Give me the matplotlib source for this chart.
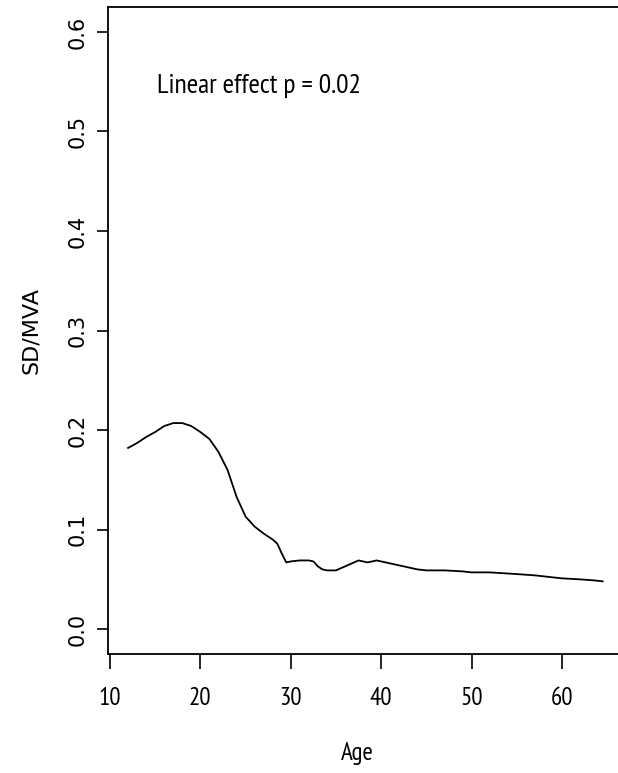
import matplotlib
matplotlib.use("Agg")
import matplotlib.pyplot as plt

# smoothed SD/MVA by age
age = [12, 13, 14, 15, 16, 17, 18, 19, 20, 21, 22, 23, 24, 25, 26, 27, 28,
       28.5, 29, 29.5, 30, 31, 32, 32.5, 33, 33.5, 34, 35, 36, 37, 37.5, 38,
       38.5, 39, 39.5, 40, 41, 42, 43, 44, 45, 47, 49, 50, 52, 55, 57, 58,
       60, 62, 63.5, 64.5]
sd_mva = [0.182, 0.187, 0.193, 0.198, 0.204, 0.207, 0.207, 0.204, 0.198,
          0.191, 0.178, 0.160, 0.133, 0.113, 0.103, 0.096, 0.090, 0.086,
          0.076, 0.067, 0.068, 0.069, 0.069, 0.068, 0.063, 0.060, 0.059,
          0.059, 0.063, 0.067, 0.069, 0.068, 0.067, 0.068, 0.069, 0.068,
          0.066, 0.064, 0.062, 0.060, 0.059, 0.059, 0.058, 0.057, 0.057,
          0.0553, 0.054, 0.053, 0.051, 0.050, 0.049, 0.048]

x_ticks = [10, 20, 30, 40, 50, 60]
y_ticks = [0.0, 0.1, 0.2, 0.3, 0.4, 0.5, 0.6]
note = "Linear effect p = 0.02"

narrow = ["PT Sans Narrow", "Roboto Condensed", "DejaVu Sans"]

fig = plt.figure(figsize=(6.18, 7.73), dpi=100)
ax = fig.add_axes([108 / 618, 119 / 773, 513 / 618, 647 / 773])

ax.plot(age, sd_mva, color="black", linewidth=1.3)

ax.set_xlim(9.78, 66.53)
ax.set_ylim(-0.025, 0.625)
ax.set_xticks(x_ticks)
ax.set_yticks(y_ticks)
ax.set_xticklabels([str(t) for t in x_ticks], family=narrow, fontsize=18)
ax.set_yticklabels(["%.1f" % t for t in y_ticks], family="DejaVu Sans",
                   fontsize=15, rotation=90, va="center")

ax.tick_params(axis="x", length=10.8, width=1.2, pad=13)
ax.tick_params(axis="y", length=8, width=1.2, pad=7)
for side in ["left", "bottom", "top"]:
    ax.spines[side].set_linewidth(1.3)
ax.spines["right"].set_visible(False)

ax.text(15.2, 0.539, note, family=narrow, fontsize=20, ha="left", va="baseline")

ax.set_xlabel("Age", family=narrow, fontsize=18)
ax.xaxis.set_label_coords(0.485, -0.136)
ax.set_ylabel("SD/MVA", family="DejaVu Sans", fontsize=16)
ax.yaxis.set_label_coords(-0.13, 0.5)

fig.savefig("out.png", dpi=100)
